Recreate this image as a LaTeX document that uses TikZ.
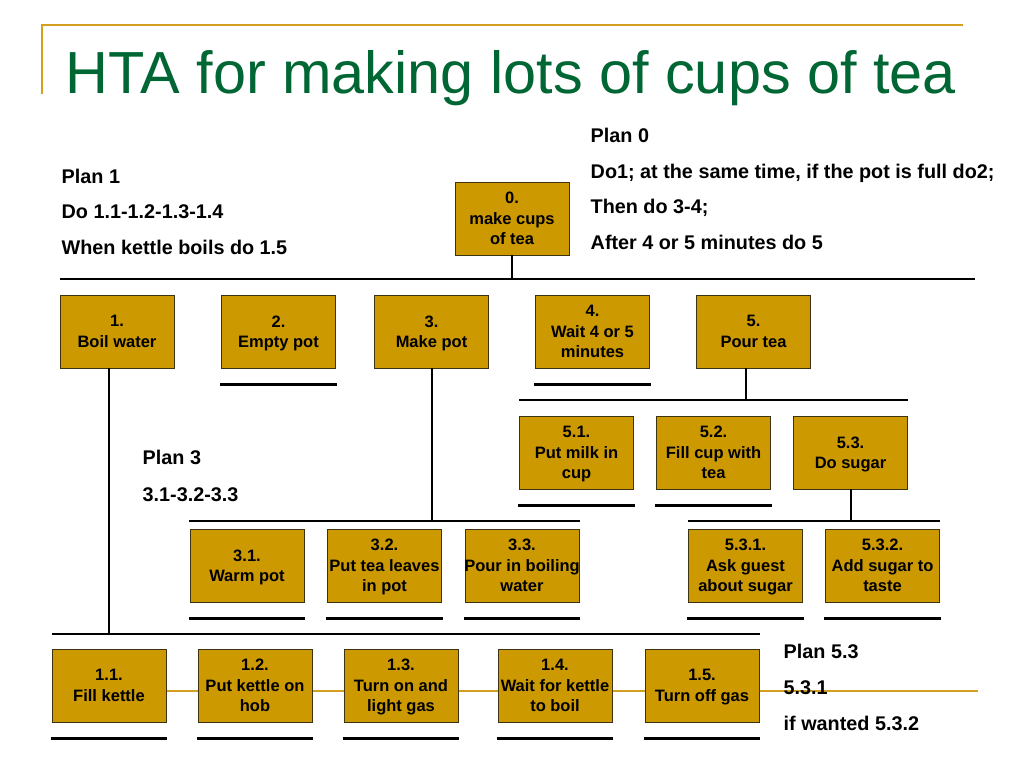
\documentclass[tikz,border=0pt]{standalone}
\usepackage{fontspec}
\setmainfont{Liberation Sans}
\definecolor{gold}{RGB}{204,153,0}
\definecolor{framegold}{RGB}{210,160,30}
\definecolor{titlegreen}{RGB}{0,102,51}
\definecolor{boxline}{RGB}{60,50,20}
\newcommand\hbfont{\fontsize{16.5}{20.5}\selectfont\bfseries}
\newcommand\hpfont{\fontsize{19.8}{24}\selectfont\bfseries}
\tikzset{
  box/.style={draw=boxline, line width=0.9pt, fill=gold, minimum width=114pt,
    minimum height=73pt, inner xsep=-3pt, inner ysep=0pt, text depth=0pt,
    align=center, font=\hbfont},
  bar/.style={line width=2.3pt, draw=black},
  conn/.style={line width=2pt, draw=black},
  plan/.style={anchor=base west, inner sep=0pt, font=\hpfont},
  goldline/.style={line width=2pt, draw=framegold}
}
\begin{document}
\begin{tikzpicture}[x=1pt,y=-1pt]
\useasboundingbox[fill=white] (0,0) rectangle (1024,768);
% frame decoration
\coordinate (fr1) at (42,94);
\coordinate (fr2) at (42,25);
\coordinate (fr3) at (963,25);
\draw[goldline] (fr1) -- (fr2) -- (fr3);
\coordinate (gl1) at (52,691);
\coordinate (gl2) at (978,691);
\draw[goldline] (gl1) -- (gl2);
% title
\node[anchor=base west, inner sep=0pt, text=titlegreen, font=\fontsize{59.4}{60}\selectfont] (title) at (65.5,93) {HTA for making lots of cups of tea};
% plans
\node[plan] (p0a) at (590.5,142) {Plan 0};
\node[plan] (p0b) at (590.5,178) {Do1; at the same time, if the pot is full do2;};
\node[plan] (p0c) at (590.5,213) {Then do 3-4;};
\node[plan] (p0d) at (590.5,249) {After 4 or 5 minutes do 5};
\node[plan] (p1a) at (61.5,183) {Plan 1};
\node[plan] (p1b) at (61.5,218) {Do 1.1-1.2-1.3-1.4};
\node[plan] (p1c) at (61.5,254) {When kettle boils do 1.5};
\node[plan] (p3a) at (142.5,464) {Plan 3};
\node[plan] (p3b) at (142.5,501) {3.1-3.2-3.3};
\node[plan] (p53a) at (783.5,658) {Plan 5.3};
\node[plan] (p53b) at (783.5,694) {5.3.1};
\node[plan] (p53c) at (783.5,730) {if wanted 5.3.2};
% boxes
\node[box] (b0) at (512,218.5) {0.\\make cups\\of tea};
\node[box] (b1) at (117,331.5) {1.\\Boil water};
\node[box] (b2) at (278.5,331.5) {2.\\Empty pot};
\node[box] (b3) at (431.5,331.5) {3.\\Make pot};
\node[box] (b4) at (592.5,331.5) {4.\\Wait 4 or 5\\minutes};
\node[box] (b5) at (753.5,331.5) {5.\\Pour tea};
\node[box] (b51) at (576.5,452.5) {5.1.\\Put milk in\\cup};
\node[box] (b52) at (713.5,452.5) {5.2.\\Fill cup with\\tea};
\node[box] (b53) at (850.5,452.5) {5.3.\\Do sugar};
\node[box] (b31) at (247,565.5) {3.1.\\Warm pot};
\node[box] (b32) at (384.5,565.5) {3.2.\\Put tea leaves\\in pot};
\node[box] (b33) at (522,565.5) {3.3.\\Pour in boiling\\water};
\node[box] (b531) at (745.5,565.5) {5.3.1.\\Ask guest\\about sugar};
\node[box] (b532) at (882.5,565.5) {5.3.2.\\Add sugar to\\taste};
\node[box] (b11) at (109,685.5) {1.1.\\Fill kettle};
\node[box] (b12) at (255,685.5) {1.2.\\Put kettle on\\hob};
\node[box] (b13) at (401,685.5) {1.3.\\Turn on and\\light gas};
\node[box] (b14) at (555,685.5) {1.4.\\Wait for kettle\\to boil};
\node[box] (b15) at (702,685.5) {1.5.\\Turn off gas};
% bars
\coordinate (L0w) at (60,279);  \coordinate (L0e) at (975,279);
\coordinate (L5w) at (519,400); \coordinate (L5e) at (908,400);
\coordinate (L3w) at (189,521); \coordinate (L3e) at (580,521);
\coordinate (L53w) at (688,521); \coordinate (L53e) at (940,521);
\coordinate (L1w) at (52,634);  \coordinate (L1e) at (760,634);
\draw[bar] (L0w) -- (L0e);
\draw[bar] (L5w) -- (L5e);
\draw[bar] (L3w) -- (L3e);
\draw[bar] (L53w) -- (L53e);
\draw[bar] (L1w) -- (L1e);
% connectors
\draw[conn] (b0.south) -- (b0.south |- L0w);
\draw[conn] (b1.south -| b11.north) -- (b11.north |- L1w);
\draw[conn] (b3.south) -- (b3.south |- L3w);
\draw[conn] ([xshift=-7.5pt]b5.south) -- ([xshift=-7.5pt]b5.south |- L5w);
\draw[conn] (b53.south) -- (b53.south |- L53w);
% leaf underlines
\foreach \n in {b2,b4,b51,b52,b31,b32,b33,b531,b532,b11,b12,b13,b14,b15}{
  \draw[bar] ([xshift=-1pt,yshift=-16pt]\n.south west) -- ([xshift=1pt,yshift=-16pt]\n.south east);
}
\end{tikzpicture}
\end{document}
